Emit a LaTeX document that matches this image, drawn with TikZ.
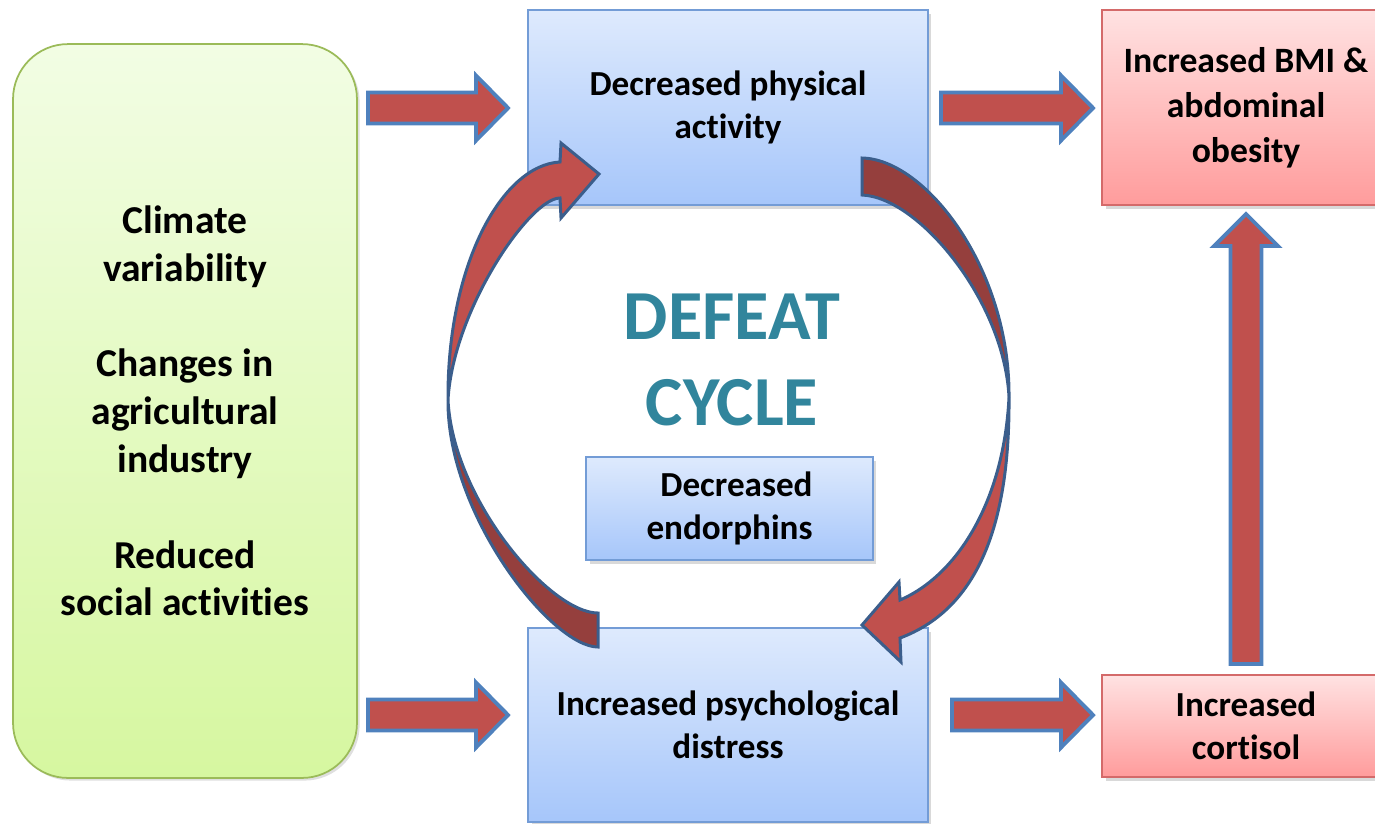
\documentclass[tikz,border=0pt]{standalone}
\usepackage{fontspec}
\setmainfont{Carlito}[RawFeature={-liga}]
\usetikzlibrary{shadows}
\definecolor{arrred}{HTML}{C0504D}
\definecolor{arrdark}{HTML}{953F3D}
\definecolor{arrblue}{HTML}{4F81BD}
\definecolor{arcblue}{HTML}{3B5E8C}
\definecolor{teal}{HTML}{31859C}
\definecolor{gtop}{HTML}{F2FDE4}
\definecolor{gbot}{HTML}{D6F7A0}
\definecolor{gborder}{HTML}{9BBB59}
\definecolor{btop}{HTML}{DEEAFD}
\definecolor{bbot}{HTML}{A6C6FA}
\definecolor{bborder}{HTML}{739CD6}
\definecolor{rtop}{HTML}{FFE2E2}
\definecolor{rbot}{HTML}{FF9C9C}
\definecolor{rborder}{HTML}{D46A6A}
\tikzset{
  greenbox/.style={draw=gborder, line width=1pt, top color=gtop, bottom color=gbot,
    rounded corners=1.1cm, inner sep=0pt, align=center,
    drop shadow={shadow xshift=1.5pt, shadow yshift=-1.5pt, opacity=0.25}},
  bluebox/.style={draw=bborder, line width=1pt, top color=btop, bottom color=bbot,
    inner sep=0pt, align=center,
    drop shadow={shadow xshift=2pt, shadow yshift=-2pt, opacity=0.3}},
  redbox/.style={draw=rborder, line width=1pt, top color=rtop, bottom color=rbot,
    inner sep=0pt, align=center,
    drop shadow={shadow xshift=2pt, shadow yshift=-2pt, opacity=0.3}},
  greentext/.style={font=\fontsize{22.5}{27.2}\selectfont\bfseries},
  bluetext/.style={font=\fontsize{20}{24.4}\selectfont\bfseries},
  redtext/.style={font=\fontsize{20.3}{25.5}\selectfont\bfseries},
  blockarrow/.style={draw=arrblue, fill=arrred, line width=2.2pt, line join=miter},
  arclight/.style={draw=arcblue, fill=arrred, line width=1.7pt, line join=miter},
  arcdark/.style={draw=arcblue, fill=arrdark, line width=1.7pt, line join=miter},
}
\newcommand\hblockarrow[3]{%
  \draw[blockarrow] (#1,#3-15.5) -- (#2-32,#3-15.5) -- (#2-32,#3-32.5) -- (#2,#3)
    -- (#2-32,#3+32.5) -- (#2-32,#3+15.5) -- (#1,#3+15.5) -- cycle;}
\begin{document}
\begin{tikzpicture}[x=0.02cm, y=-0.02cm]
\useasboundingbox (0,0) rectangle (1375,823);
\clip (0,0) rectangle (1375,823);

% boxes
\node[greenbox, greentext, minimum width=6.88cm, minimum height=14.68cm] (env) at (185,411)
  {Climate\\variability\\[27.2pt]Changes in\\agricultural\\industry\\[27.2pt]Reduced\\social activities};
\node[bluebox, bluetext, minimum width=8cm, minimum height=3.9cm] (phys) at (728,107.5)
  {Decreased physical\\activity};
\node[bluebox, bluetext, minimum width=8cm, minimum height=3.88cm] (psych) at (728,725)
  {Increased psychological\\distress};
\node[bluebox, bluetext, minimum width=5.74cm, minimum height=2.06cm] (endo) at (729.5,508.5)
  {\hspace{0.4em}Decreased\\endorphins};
\node[redbox, redtext, minimum width=5.76cm, minimum height=3.9cm] (bmi) at (1246,107.5)
  {Increased BMI \&\\abdominal\\obesity};
\node[redbox, bluetext, minimum width=5.76cm, minimum height=2.04cm] (cort) at (1246,726)
  {Increased\\cortisol};

\node[text=teal, font=\fontsize{40}{49}\selectfont\bfseries, align=center] (defeat) at (732,360)
  {DEFEAT\\CYCLE};

% straight block arrows
\hblockarrow{368}{508}{108}
\hblockarrow{941}{1093}{108}
\hblockarrow{368}{508}{715}
\hblockarrow{952}{1093}{715}
\draw[blockarrow] (1230.5,664) -- (1230.5,246) -- (1214,246) -- (1246,214) -- (1278,246)
  -- (1261.5,246) -- (1261.5,664) -- cycle;

% left curved arrow (psych -> phys)
\draw[arcdark] (448,400) .. controls (447,515) and (552,647) .. (598,647)
  -- (598,613) .. controls (550,613) and (453,500) .. (448,400) -- cycle;
\draw[arclight] (448,400) .. controls (447,265) and (502,165) .. (560,162)
  -- (561,143) -- (599,174) -- (561,218) -- (560,198)
  .. controls (530,198) and (453,310) .. (448,400) -- cycle;

% right curved arrow (phys -> psych)
\draw[arcdark] (862,158) .. controls (925,159) and (1010,268) .. (1009,397)
  .. controls (1004,300) and (918,197) .. (862,195) -- cycle;
\draw[arclight] (1009,397) .. controls (1010,530) and (975,610) .. (900,638)
  -- (901,662) -- (862,625) -- (899,582) -- (900,600)
  .. controls (958,575) and (1004,500) .. (1009,397) -- cycle;
\end{tikzpicture}
\end{document}
